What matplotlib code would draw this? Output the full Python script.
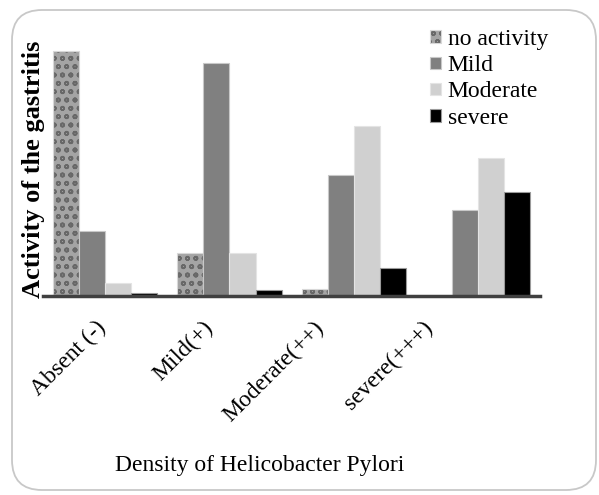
import numpy as np
import matplotlib
matplotlib.use("Agg")
import matplotlib.pyplot as plt
from matplotlib.patches import FancyBboxPatch
from matplotlib.transforms import ScaledTranslation

plt.rcParams['font.family'] = ['Liberation Serif', 'DejaVu Serif']
plt.rcParams['hatch.linewidth'] = 1.2

# data (arbitrary units)
groups = ['Absent (-)', 'Mild(+)', 'Moderate(++)', 'severe(+++)']
series = ['no activity', 'Mild', 'Moderate', 'severe']
no_activity = [49.0, 8.6, 1.4, 0.0]
mild = [13.0, 46.6, 24.2, 17.2]
moderate = [2.6, 8.6, 34.0, 27.6]
severe = [0.6, 1.2, 5.6, 20.8]

values = [no_activity, mild, moderate, severe]
faces = ['#a4a4a4', '#808080', '#d0d0d0', '#000000']
edges = ['#d8d8d8', '#c8c8c8', '#e4e4e4', '#9a9a9a']
hatches = ['oo', None, None, None]
label_shift_px = [-10, -27, -41, -56]

fig = plt.figure(figsize=(5.99, 4.95), dpi=100)
ax = fig.add_axes([0.0718, 0.402, 0.830, 0.517])

x = np.arange(len(groups))
w = 0.21
for i, (vals, name) in enumerate(zip(values, series)):
    bars = ax.bar(x + (i - 1.5) * w, vals, w, color=faces[i], edgecolor=edges[i],
                  linewidth=0.8, label=name, hatch=hatches[i])
    if hatches[i]:
        for b in bars:
            b._hatch_color = matplotlib.colors.to_rgba('#686868')

ax.set_xlim(-0.5, 3.5)
ax.set_ylim(0, 51.2)
for s in ['top', 'right', 'left']:
    ax.spines[s].set_visible(False)
ax.spines['bottom'].set_color('#404040')
ax.spines['bottom'].set_linewidth(2.5)
ax.set_yticks([])
ax.set_xticks(x)
ax.set_xticklabels(groups, rotation=45, ha='right', rotation_mode='anchor', fontsize=17)
ax.tick_params(axis='x', length=0, pad=15)
for lab, dx in zip(ax.get_xticklabels(), label_shift_px):
    lab.set_transform(lab.get_transform() + ScaledTranslation(dx / 100, 0, fig.dpi_scale_trans))

leg = ax.legend(loc='upper right', bbox_to_anchor=(1.035, 1.08), frameon=False,
                fontsize=17, handlelength=0.45, handleheight=0.45,
                handletextpad=0.3, labelspacing=0.22, borderaxespad=0)

fig.text(34 / 599, 1 - 169 / 495, 'Activity of the gastritis', rotation=90,
         ha='center', va='center', fontsize=19, fontweight='bold')
fig.text(260 / 599, 1 - 465 / 495, 'Density of Helicobacter Pylori',
         ha='center', va='center', fontsize=17)

border = FancyBboxPatch((12, 5), 584, 480, boxstyle='round,pad=0,rounding_size=30',
                        transform=None, facecolor='none', edgecolor='#c8c8c8',
                        linewidth=1.3)
fig.add_artist(border)

fig.savefig('out.png', dpi=100)
